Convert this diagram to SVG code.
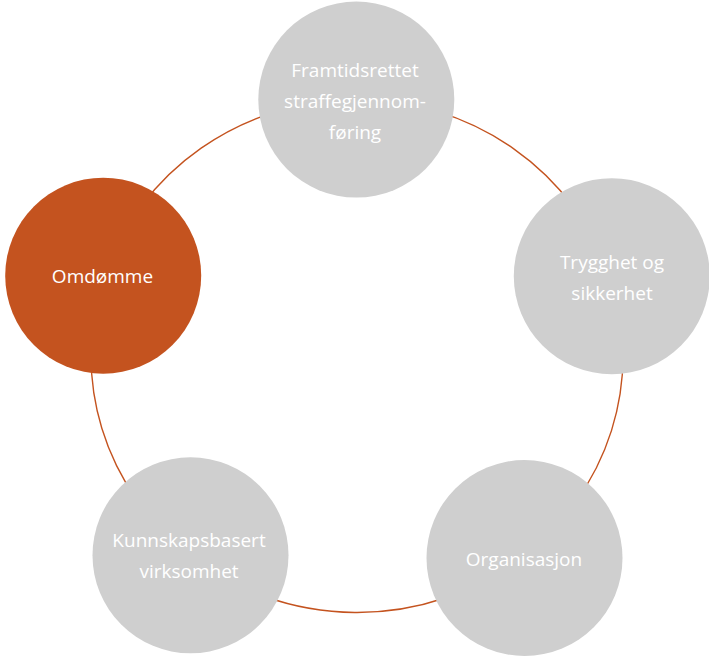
<svg xmlns="http://www.w3.org/2000/svg" width="709" height="658" viewBox="0 0 709 658">
<style>
.conn{fill:none;stroke:#c4531f;stroke-width:1.4}
.node{fill:#cfcfcf}
.accent{fill:#c4531f}
.lbl{font-family:"Open Sans","Noto Sans","DejaVu Sans",sans-serif;font-size:19px;fill:#ffffff;text-anchor:middle}
</style>
<rect x="0" y="0" width="709" height="658" fill="#ffffff"/>
<g id="connectors">
<path class="conn" d="M357 99.5 A266 256.5 0 0 1 609.8 276.2"/>
<path class="conn" d="M609.8 276.2 A266 256.5 0 0 1 520.9 558"/>
<path class="conn" d="M520.9 558 A266 256.5 0 0 1 189.6 555.3"/>
<path class="conn" d="M189.6 555.3 A266 256.5 0 0 1 104.4 275.7"/>
<path class="conn" d="M104.4 275.7 A266 256.5 0 0 1 357 99.5"/>
</g>
<g id="node-framtidsrettet">
<circle class="node" cx="356.3" cy="99.6" r="98"/>
<text class="lbl" x="355" y="77">Framtidsrettet</text>
<text class="lbl" x="355" y="108">straffegjennom-</text>
<text class="lbl" x="355" y="139">føring</text>
</g>
<g id="node-trygghet">
<circle class="node" cx="611.8" cy="276.2" r="98"/>
<text class="lbl" x="612" y="269">Trygghet og</text>
<text class="lbl" x="612" y="300">sikkerhet</text>
</g>
<g id="node-organisasjon">
<circle class="node" cx="524.5" cy="558" r="98"/>
<text class="lbl" x="524" y="566">Organisasjon</text>
</g>
<g id="node-kunnskapsbasert">
<circle class="node" cx="190.5" cy="555.3" r="98"/>
<text class="lbl" x="189" y="547">Kunnskapsbasert</text>
<text class="lbl" x="189" y="578">virksomhet</text>
</g>
<g id="node-omdomme">
<circle class="accent" cx="103.2" cy="275.7" r="98"/>
<text class="lbl" x="102.5" y="283">Omdømme</text>
</g>
</svg>
